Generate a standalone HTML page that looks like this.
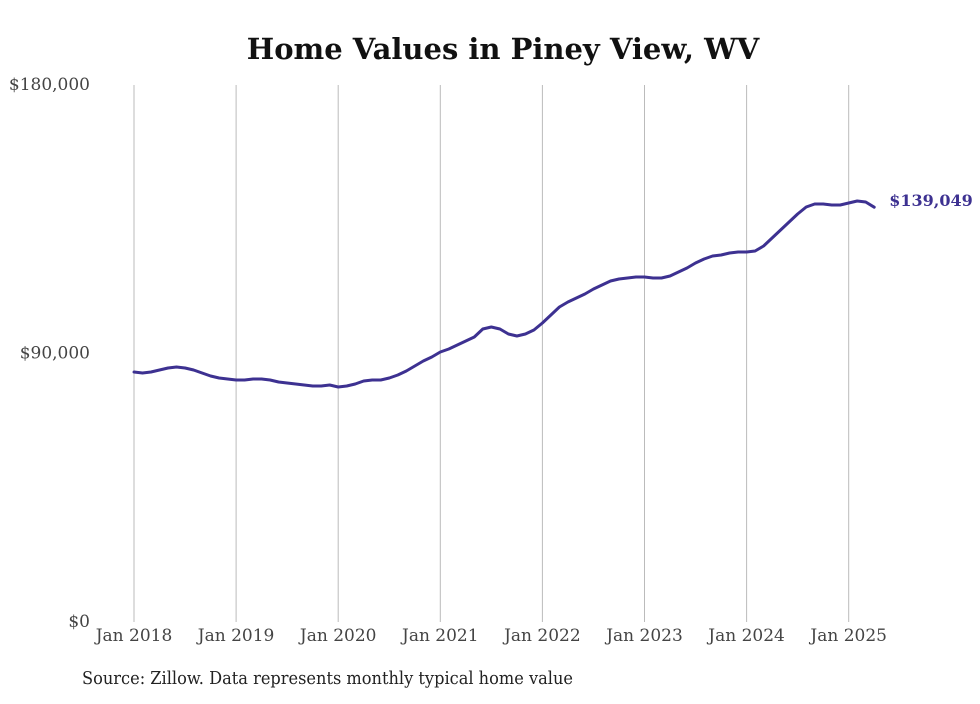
<!DOCTYPE html>
<html><head><meta charset="utf-8"><style>
body{margin:0;background:#fff;}
svg text{font-family:"DejaVu Serif","Liberation Serif",serif;}
</style></head><body>
<svg id="chart" width="980" height="699" viewBox="0 0 980 699" xmlns="http://www.w3.org/2000/svg">
<text x="503" y="59" text-anchor="middle" font-size="29" font-weight="bold" fill="#111">Home Values in Piney View, WV</text>
<g id="grid"></g>
<g id="yaxis"></g>
<g id="xaxis"></g>
<path id="line" fill="none" stroke="#3d3191" stroke-width="3" stroke-linejoin="round" stroke-linecap="round"/>
<text id="lastlabel" font-size="16" font-weight="bold" fill="#3d3191"></text>
<text x="82" y="684" font-size="18" fill="#222" textLength="491" lengthAdjust="spacingAndGlyphs">Source: Zillow. Data represents monthly typical home value</text>
</svg>
<script>
const values=[83800,83465,83800,84470,85140,85476,85140,84470,83465,82459,81789,81454,
81118,81118,81454,81454,81118,80448,80113,79778,79442,79107,79107,79442,
78772,79107,79778,80783,81118,81118,81789,82794,84135,85811,87487,88828,
90504,91510,92850,94191,95532,98214,98884,98214,96538,95867,96538,97878,
100225,102906,105588,107264,108605,109946,111622,112962,114303,114974,115309,115644,
115644,115309,115309,115979,117320,118661,120337,121678,122683,123018,123689,124024,
124024,124359,126035,128717,131398,134080,136762,139108,140114,140114,139779,139779,
140450,141120,140784,139049];
const yTicks=[0,90000,180000];
const yTickLabels=["$0","$90,000","$180,000"];
const xYears=[2018,2019,2020,2021,2022,2023,2024,2025];
const lastLabel="$139,049";
const NS="http://www.w3.org/2000/svg";
const x0=134,perMonth=102.1/12,yBase=622,yTop=85,yMax=180000;
function xs(i){return x0+i*perMonth;}
function ys(v){return yBase-(v/yMax)*(yBase-yTop);}
const grid=document.getElementById('grid'),xa=document.getElementById('xaxis'),ya=document.getElementById('yaxis');
xYears.forEach((yr,k)=>{
 const x=xs(k*12);
 const l=document.createElementNS(NS,'line');
 
 
 l.setAttribute('x1',x);l.setAttribute('x2',x);l.setAttribute('y1',yTop);l.setAttribute('y2',yBase);
 l.setAttribute('stroke','#bbb');l.setAttribute('stroke-width','1');
 grid.appendChild(l);
 const t=document.createElementNS(NS,'text');
 
 
 t.setAttribute('x',x);t.setAttribute('y',641);t.setAttribute('text-anchor','middle');
 t.setAttribute('font-size','17');t.setAttribute('fill','#444');
 t.textContent='Jan '+yr;xa.appendChild(t);
});
yTicks.forEach((v,k)=>{
 const t=document.createElementNS(NS,'text');
 
 
 t.setAttribute('x',90);t.setAttribute('y',ys(v)+5);t.setAttribute('text-anchor','end');
 t.setAttribute('font-size','17');t.setAttribute('fill','#444');
 t.textContent=yTickLabels[k];ya.appendChild(t);
});
let d='';
values.forEach((v,i)=>{d+=(i?'L':'M')+xs(i).toFixed(1)+','+ys(v).toFixed(1);});
document.getElementById('line').setAttribute('d',d);
const ll=document.getElementById('lastlabel');
const li=values.length-1;
ll.setAttribute('x',xs(li)+15);ll.setAttribute('y',ys(values[li])-1);
ll.textContent=lastLabel;
</script>
</body></html>
